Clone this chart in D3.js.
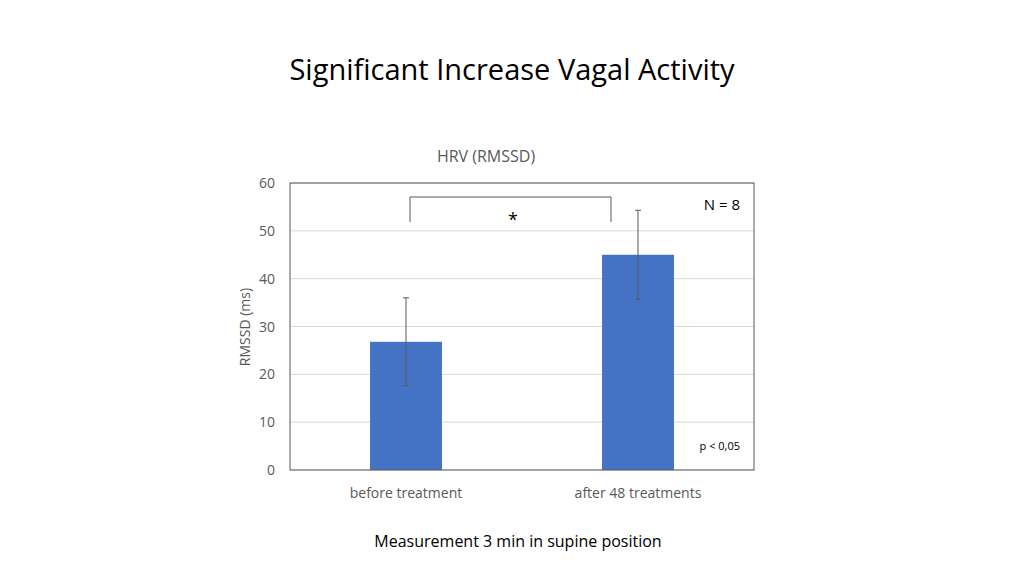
<!DOCTYPE html>
<html><head><meta charset="utf-8">
<script src="https://cdn.jsdelivr.net/npm/d3@7"></script>
<style>body{margin:0;background:#fff;font-family:"Open Sans",sans-serif}</style>
</head><body>
<svg id="c" width="1024" height="576"></svg>
<script>
var categories = ["before treatment", "after 48 treatments"];
var means = [26.8, 45.0];
var errors = [9.2, 9.3];
var yTicks = [0, 10, 20, 30, 40, 50, 60];

var svg = d3.select("#c");
var m = {left: 290, right: 754, top: 183, bottom: 470};

var x = d3.scaleBand().domain(categories).range([m.left, m.right]).paddingInner(0.69).paddingOuter(0.345);
var y = d3.scaleLinear().domain([0, 60]).range([m.bottom, m.top]);

svg.append("text").attr("x", 512).attr("y", 80).attr("text-anchor", "middle")
  .attr("font-size", 29).attr("fill", "#000").text("Significant Increase Vagal Activity");
svg.append("text").attr("x", 486).attr("y", 162).attr("text-anchor", "middle")
  .attr("font-size", 16).attr("fill", "#595959").text("HRV (RMSSD)");

// gridlines
svg.append("g").selectAll("line").data(yTicks).enter().append("line")
  .attr("x1", m.left).attr("x2", m.right)
  .attr("y1", function (d) { return y(d); }).attr("y2", function (d) { return y(d); })
  .attr("stroke", "#d9d9d9");

svg.append("g").selectAll("text").data(yTicks).enter().append("text")
  .attr("x", 275).attr("y", function (d) { return y(d) + 5; })
  .attr("text-anchor", "end").attr("font-size", 14).attr("fill", "#595959")
  .text(function (d) { return d; });

svg.append("text").attr("transform", "translate(250,327) rotate(-90)")
  .attr("text-anchor", "middle").attr("font-size", 14).attr("fill", "#595959").text("RMSSD (ms)");

svg.append("g").selectAll("rect").data(means).enter().append("rect")
  .attr("x", function (d, i) { return x(categories[i]); })
  .attr("width", x.bandwidth())
  .attr("y", function (d) { return y(d); })
  .attr("height", function (d) { return y(0) - y(d); })
  .attr("fill", "#4472c4");

// error bars
var eb = svg.append("g").attr("stroke", "#595959");
means.forEach(function (d, i) {
  var cx = x(categories[i]) + x.bandwidth() / 2;
  eb.append("line").attr("x1", cx).attr("x2", cx).attr("y1", y(d - errors[i])).attr("y2", y(d + errors[i]));
  [d - errors[i], d + errors[i]].forEach(function (v) {
    eb.append("line").attr("x1", cx - 3).attr("x2", cx + 3).attr("y1", y(v)).attr("y2", y(v));
  });
});

// frame
svg.append("rect").attr("x", m.left).attr("y", m.top).attr("width", m.right - m.left)
  .attr("height", m.bottom - m.top).attr("fill", "none").attr("stroke", "#595959");

svg.append("g").selectAll("text").data(categories).enter().append("text")
  .attr("x", function (d) { return x(d) + x.bandwidth() / 2; }).attr("y", 498)
  .attr("text-anchor", "middle").attr("font-size", 14).attr("fill", "#595959")
  .text(function (d) { return d; });

// significance bracket
svg.append("path").attr("d", "M410,222V197H611V222").attr("fill", "none").attr("stroke", "#595959");
svg.append("text").attr("x", 513).attr("y", 226).attr("text-anchor", "middle").attr("font-size", 18).text("*");

svg.append("text").attr("x", 740).attr("y", 210).attr("text-anchor", "end").attr("font-size", 15).text("N = 8");
svg.append("text").attr("x", 740).attr("y", 450).attr("text-anchor", "end").attr("font-size", 11).text("p < 0,05");

svg.append("text").attr("x", 518).attr("y", 547).attr("text-anchor", "middle").attr("font-size", 16).text("Measurement 3 min in supine position");
</script>
</body></html>
